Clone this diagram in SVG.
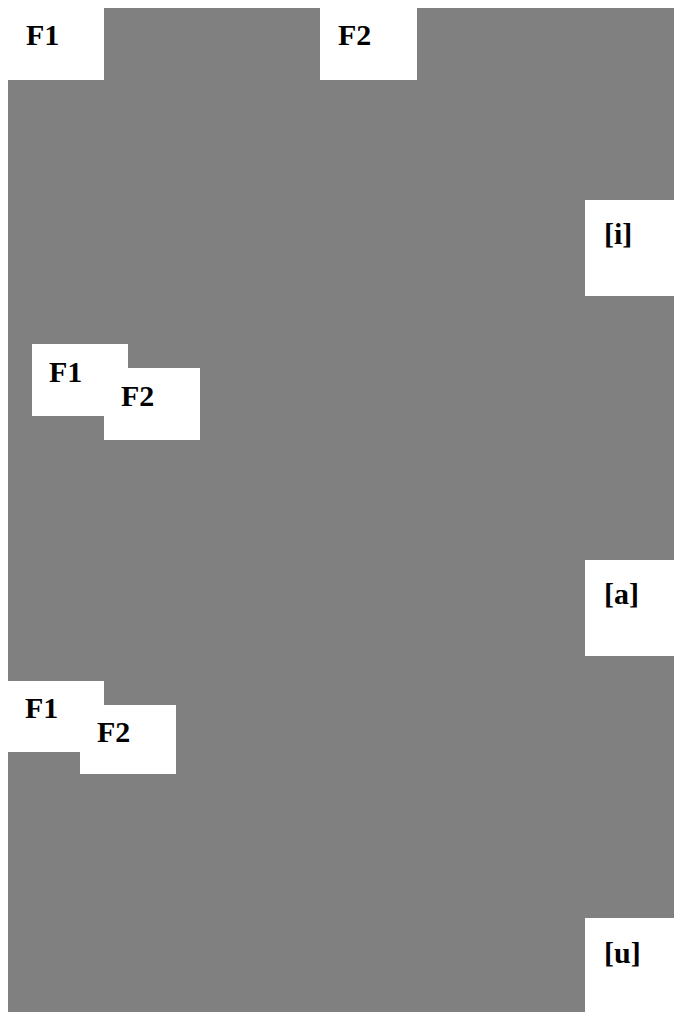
<svg xmlns="http://www.w3.org/2000/svg" width="674" height="1012" viewBox="0 0 674 1012">
<style>
.bg{fill:#808080}
.box{fill:#ffffff}
.lbl{font-family:"Liberation Serif","Times New Roman",serif;font-weight:bold;font-size:30px;fill:#000000}
</style>
<rect width="674" height="1012" fill="#ffffff"/>
<rect class="bg" x="8" y="8" width="666" height="1004"/>
<g id="f1-top"><rect class="box" x="0" y="0" width="104" height="80"/><text class="lbl" x="26" y="45">F1</text></g>
<g id="f2-top"><rect class="box" x="320" y="0" width="97" height="80"/><text class="lbl" x="338" y="45">F2</text></g>
<g id="vowel-i"><rect class="box" x="585" y="200" width="89" height="96"/><text class="lbl" x="604" y="244">[i]</text></g>
<g id="f1-mid"><rect class="box" x="32" y="344" width="96" height="72"/><text class="lbl" x="49" y="382">F1</text></g>
<g id="f2-mid"><rect class="box" x="104" y="368" width="96" height="72"/><text class="lbl" x="121" y="406">F2</text></g>
<g id="vowel-a"><rect class="box" x="585" y="560" width="89" height="96"/><text class="lbl" x="604" y="604">[a]</text></g>
<g id="f1-bot"><rect class="box" x="8" y="681" width="96" height="71"/><text class="lbl" x="25" y="718">F1</text></g>
<g id="f2-bot"><rect class="box" x="80" y="705" width="96" height="69"/><text class="lbl" x="97" y="742">F2</text></g>
<g id="vowel-u"><rect class="box" x="585" y="918" width="89" height="94"/><text class="lbl" x="604" y="963">[u]</text></g>
<g id="connectors"></g>
</svg>
